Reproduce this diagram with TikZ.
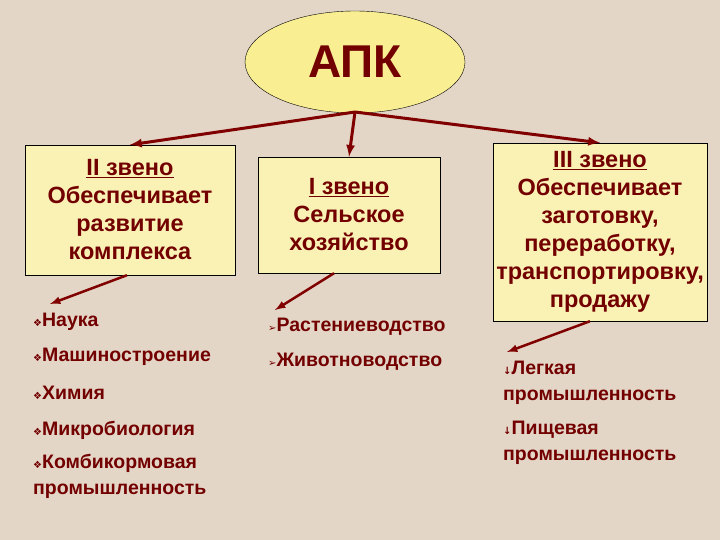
\documentclass[tikz,border=0pt]{standalone}
\usepackage{fontspec}
\usetikzlibrary{shapes.geometric}
\setmainfont{Liberation Sans}
\newfontfamily\symf{DejaVu Sans}
\begin{document}
\begin{tikzpicture}[x=1pt,y=-1pt,
  txt/.style={text=red!45!black,font=\bfseries},
  box/.style={draw=black,fill=yellow!25!white!92!brown,align=center,txt,font=\bfseries\fontsize{23.5}{28}\selectfont,inner sep=0pt},
  arr/.style={draw=red!50!black,line width=3pt,-latex},
  item/.style={txt,anchor=west,font=\bfseries\fontsize{19.5}{26}\selectfont,align=left,inner sep=0pt}]
\fill[brown!25!white!90!gray] (0,0) rectangle (720,540);
\useasboundingbox (0,0) rectangle (720,540);
\node[ellipse,draw=black,fill=yellow!40!white!90!brown,minimum width=220pt,minimum height=102pt,txt,font=\bfseries\fontsize{46}{50}\selectfont] (apk) at (355,62) {АПК};
\node[box,minimum width=210pt,minimum height=130pt] (b2) at (130,210) {\underline{II звено}\\Обеспечивает\\развитие\\комплекса};
\node[box,minimum width=182pt,minimum height=116pt] (b1) at (349,215) {\underline{I звено}\\Сельское\\хозяйство};
\node[box,minimum width=214pt,minimum height=178pt] (b3) at (600,232) {\underline{III звено}\\Обеспечивает\\заготовку,\\переработку,\\транспортировку,\\продажу};
\coordinate (hub) at (355,112);
\draw[arr] (hub) -- (b2.north);
\draw[arr] (hub) -- (b1.north);
\draw[arr] (hub) -- (b3.north);
\coordinate (t2) at (50,304); \coordinate (t1) at (275,310); \coordinate (t3) at (507,352);
\draw[arr,line width=2.5pt] ([xshift=-3pt]b2.south) -- (t2);
\draw[arr,line width=2.5pt] ([xshift=-15pt]b1.south) -- (t1);
\draw[arr,line width=2.5pt] ([xshift=-10pt]b3.south) -- (t3);
\node[item] (l1) at (33,322) {{\symf\normalsize❖}Наука};
\node[item] (l2) at (33,357) {{\symf\normalsize❖}Машиностроение};
\node[item] (l3) at (33,393) {{\symf\normalsize❖}Химия};
\node[item] (l4) at (33,430) {{\symf\normalsize❖}Микробиология};
\node[item] (l5) at (33,476) {{\symf\normalsize❖}Комбикормовая\\промышленность};
\node[item] (m1) at (268,327) {{\symf\normalsize➢}Растениеводство};
\node[item] (m2) at (268,362) {{\symf\normalsize➢}Животноводство};
\node[item] (r1) at (503,383) {{\symf\normalsize↓}Легкая\\промышленность};
\node[item] (r2) at (503,443) {{\symf\normalsize↓}Пищевая\\промышленность};
\end{tikzpicture}
\end{document}
